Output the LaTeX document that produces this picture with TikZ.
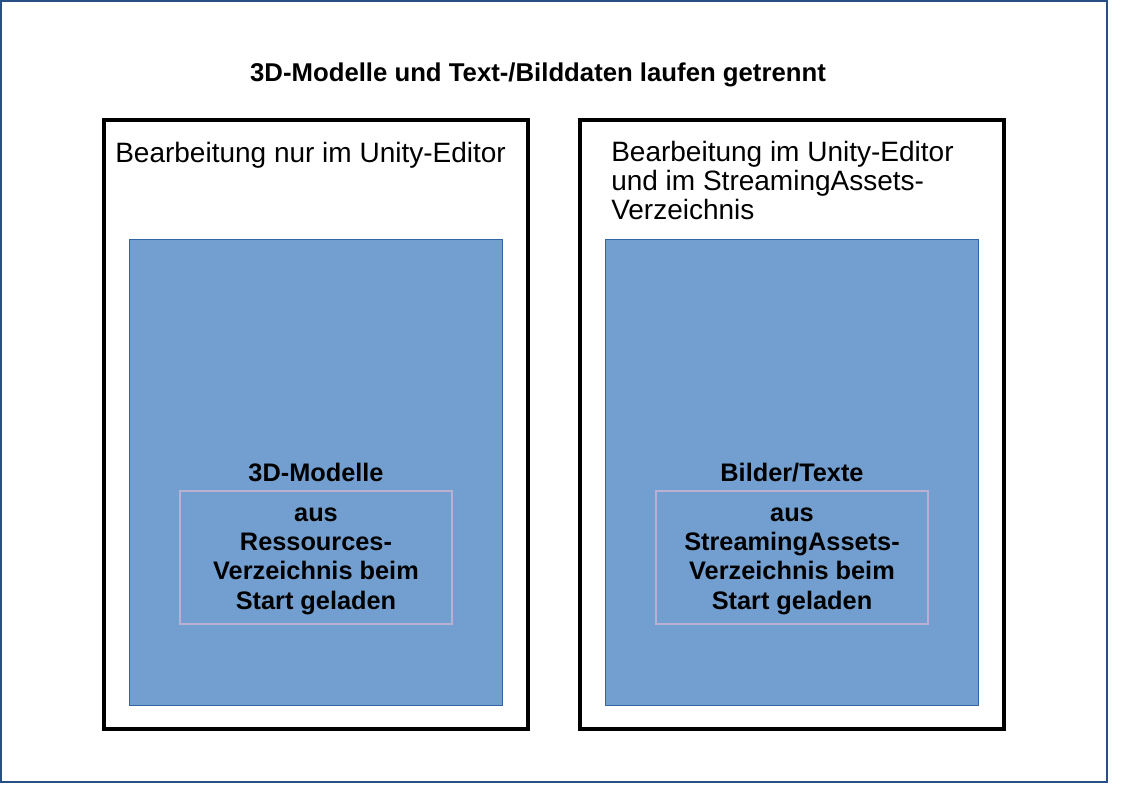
\documentclass[tikz,border=0pt]{standalone}
\usepackage{fontspec}
\setmainfont{Liberation Sans}
\usepackage{xcolor}
\definecolor{framblue}{RGB}{42,79,133}
\definecolor{fillblue}{RGB}{114,159,207}
\definecolor{edgeblue}{RGB}{52,101,164}
\definecolor{lilac}{RGB}{186,176,212}

\begin{document}
\begin{tikzpicture}[x=0.75pt,y=-0.75pt,
   headtxt/.style={inner sep=0pt, align=left, font=\fontsize{21}{21.4}\selectfont},
   boldtxt/.style={inner sep=0pt, align=center, font=\fontsize{19}{22}\selectfont\bfseries}]
   \useasboundingbox (0,0) rectangle (1123,794);
   \draw[framblue, line width=1.6pt] (1,1) rectangle (1107,782);
   \node[boldtxt, font=\fontsize{19.3}{22}\selectfont\bfseries, anchor=base] (title) at (538,81) {3D-Modelle und Text-/Bilddaten laufen getrennt};
   \foreach \dx in {0,476} {
      \draw[black, line width=2.8pt] (104+\dx,120) rectangle (528+\dx,729);
      \filldraw[fill=fillblue, draw=edgeblue, line width=0.6pt] (129+\dx,239) rectangle (502+\dx,705);
      \draw[lilac, line width=2.2pt] (180+\dx,491) rectangle (452+\dx,624);
   }
   % left panel
   \node[headtxt, anchor=base west] (lhead) at (115,162) {Bearbeitung nur im Unity-Editor};
   \node[boldtxt, anchor=base] (lname) at (316,481) {3D-Modelle};
   \node[boldtxt, anchor=base] (lload) at (316,609) {aus\\Ressources-\\Verzeichnis beim\\Start geladen};
   % right panel
   \node[headtxt, anchor=base west] (rhead) at (611,219) {Bearbeitung im Unity-Editor\\und im StreamingAssets-\\Verzeichnis};
   \node[boldtxt, anchor=base] (rname) at (792,481) {Bilder/Texte};
   \node[boldtxt, anchor=base] (rload) at (792,609) {aus\\StreamingAssets-\\Verzeichnis beim\\Start geladen};
\end{tikzpicture}
\end{document}
